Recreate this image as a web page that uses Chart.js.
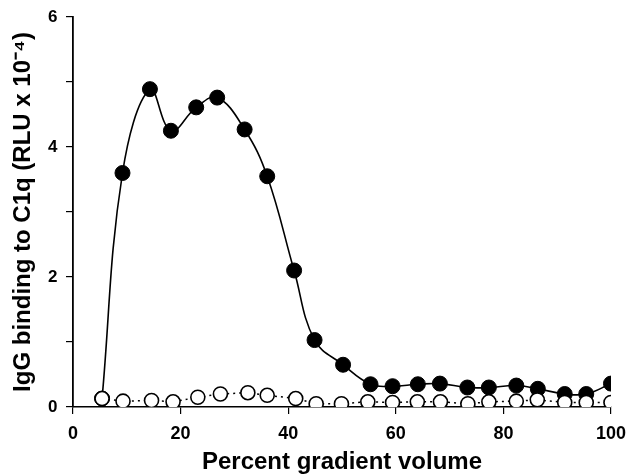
<!DOCTYPE html>
<html>
<head>
<meta charset="utf-8">
<script src="https://cdn.jsdelivr.net/npm/chart.js@4"></script>
<style>
    html, body { margin: 0; padding: 0; background: #fff; }
    #wrap { width: 635px; height: 474px; }
</style>
</head>
<body>
<div id="wrap"><canvas id="c1qChart" width="635" height="474"></canvas></div>
<script>
// Werte
const xFilled = [5.4, 9.2, 14.3, 18.2, 22.9, 26.8, 31.9, 36.1, 41.1, 44.9, 50.2, 55.3, 59.4, 64.1, 68.2, 73.3, 77.3, 82.4, 86.4, 91.4, 95.4, 100];
const yFilled = [0.13, 3.6, 4.89, 4.25, 4.61, 4.76, 4.27, 3.55, 2.1, 1.03, 0.65, 0.35, 0.32, 0.35, 0.36, 0.3, 0.3, 0.33, 0.28, 0.2, 0.2, 0.36];

const xOpen = [5.4, 9.3, 14.6, 18.6, 23.2, 27.4, 32.5, 36.1, 41.4, 45.2, 49.9, 54.8, 59.4, 64, 68.3, 73.4, 77.3, 82.4, 86.3, 91.4, 95.4, 100];
const yOpen = [0.13, 0.09, 0.1, 0.08, 0.15, 0.2, 0.22, 0.18, 0.13, 0.05, 0.05, 0.08, 0.07, 0.08, 0.08, 0.05, 0.08, 0.09, 0.11, 0.07, 0.07, 0.07];

const xTicks = [0, 20, 40, 60, 80, 100];
const yTickLabels = [0, 2, 4, 6];

const xTitle = "Percent gradient volume";
const yTitle = "IgG binding to C1q (RLU x 10\u207B\u2074)";

const tickFont = "'Liberation Sans Narrow', 'Arial Narrow', 'Liberation Sans', sans-serif";
const titleFont = "'Liberation Sans', Arial, sans-serif";

function toPoints(xs, ys) {
    return xs.map((x, i) => ({ x: x, y: ys[i] }));
}

const ctx = document.getElementById("c1qChart");
new Chart(ctx, {
    type: 'line',
    data: {
        datasets: [{
            // offene Kreise (oben gezeichnet)
            data: toPoints(xOpen, yOpen),
            borderColor: "#000",
            borderWidth: 1.5,
            borderDash: [2, 4],
            tension: 0,
            pointRadius: 7,
            pointBorderWidth: 1.6,
            pointBackgroundColor: "#fff",
            pointBorderColor: "#000",
        }, {
            // gefüllte Kreise
            data: toPoints(xFilled, yFilled),
            borderColor: "#000",
            borderWidth: 1.6,
            tension: 0.4,
            pointRadius: 7.5,
            pointBorderWidth: 1,
            pointBackgroundColor: "#000",
            pointBorderColor: "#000",
        }],
    },
    options: {
        responsive: false,
        animation: false,
        layout: {
            padding: { top: 17, right: 22, left: 0, bottom: 0 }
        },
        plugins: {
            legend: { display: false },
            tooltip: { enabled: false },
        },
        scales: {
            x: {
                type: 'linear',
                min: 0,
                max: 100,
                afterBuildTicks: (scale) => {
                    scale.ticks = xTicks.map(v => ({ value: v }));
                },
                afterFit: (scale) => { scale.height = 67; },
                border: { color: "#000", width: 1.5 },
                grid: {
                    drawOnChartArea: false,
                    drawTicks: true,
                    tickLength: 7,
                    color: "#000",
                    lineWidth: 1.2,
                },
                ticks: {
                    color: "#000",
                    padding: 9,
                    maxRotation: 0,
                    font: { family: tickFont, size: 18, weight: 'bold' },
                },
                title: {
                    display: true,
                    text: xTitle,
                    color: "#000",
                    padding: { top: 0, bottom: 0 },
                    font: { family: titleFont, size: 24, weight: 'bold', lineHeight: 1 },
                },
            },
            y: {
                min: 0,
                max: 6,
                afterFit: (scale) => { scale.width = 73; },
                border: { color: "#000", width: 1.8 },
                grid: {
                    drawOnChartArea: false,
                    drawTicks: true,
                    tickLength: 7,
                    color: "#000",
                    lineWidth: 1.2,
                },
                ticks: {
                    stepSize: 1,
                    color: "#000",
                    padding: 8.5,
                    font: { family: tickFont, size: 17, weight: 'bold', lineHeight: 1 },
                    callback: (v) => yTickLabels.includes(v) ? v : "",
                },
                title: {
                    display: true,
                    text: yTitle,
                    color: "#000",
                    padding: { top: 11, bottom: 0 },
                    font: { family: titleFont, size: 24, weight: 'bold', lineHeight: 1 },
                },
            },
        },
    },
});
</script>
</body>
</html>
